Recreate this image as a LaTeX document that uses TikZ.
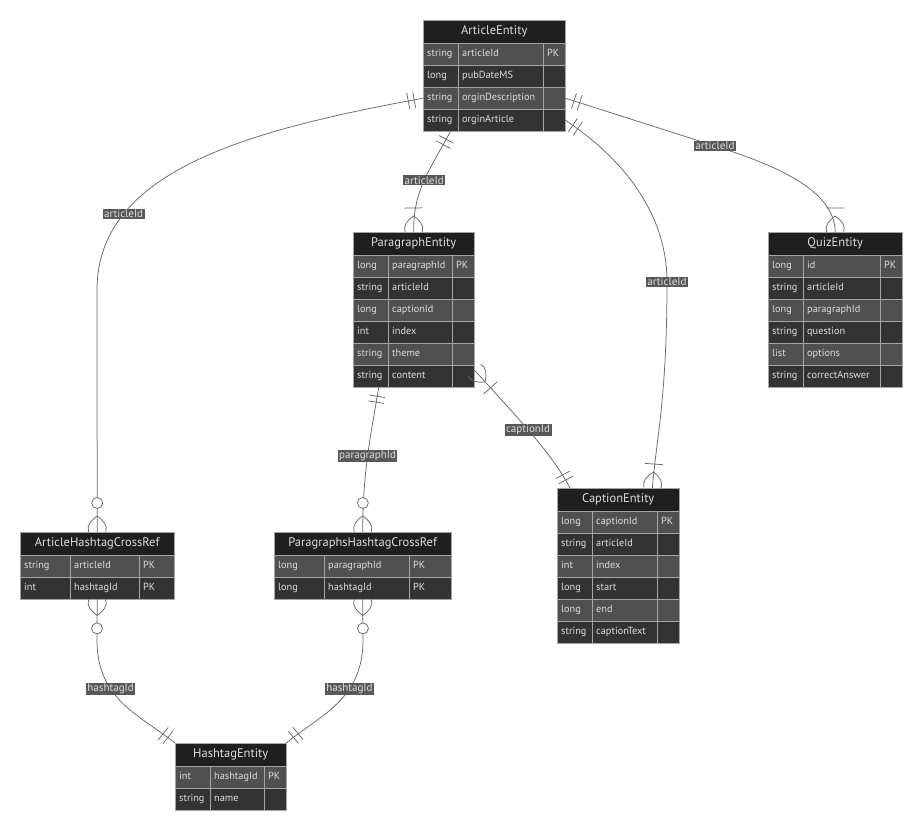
\documentclass[tikz,border=0pt]{standalone}
\usepackage{fontspec}
\setmainfont{PT Sans}
\usetikzlibrary{decorations.markings}

\definecolor{erhead}{RGB}{31,31,31}
\definecolor{erodd}{RGB}{80,80,80}
\definecolor{ereven}{RGB}{51,51,51}
\definecolor{erborder}{RGB}{165,165,165}
\definecolor{ertext}{RGB}{222,222,222}
\definecolor{erlink}{RGB}{105,105,105}
\definecolor{erlabel}{RGB}{88,88,88}

% entity table: name, title, x, y, three column widths, rows, type/name/key list
\newcommand{\erentity}[9]{%
  \pgfmathsetmacro{\erwidth}{#5+#6+#7}
  \pgfmathsetmacro{\erheight}{23+22*#8}
  \pgfmathsetmacro{\erxb}{#3+#5}
  \pgfmathsetmacro{\erxc}{#3+#5+#6}
  \pgfmathsetmacro{\erwa}{#5-8}
  \pgfmathsetmacro{\erwb}{#6-8}
  \pgfmathsetmacro{\erwc}{#7-8}
  \node[erframe, minimum width=\erwidth pt, minimum height=\erheight pt] (#1) at (#3,#4) {};
  \node[ertitle, minimum width=\erwidth pt] (#1-title) at (#3,#4) {#2};
  \foreach \ty/\nm/\ky [count=\erow] in {#9} {
    \pgfmathsetmacro{\ery}{#4+23+22*(\erow-1)}
    \ifodd\erow\relax \def\erfill{erodd}\else \def\erfill{ereven}\fi
    \node[ercell, fill=\erfill, text width=\erwa pt] (#1-\erow-type) at (#3,\ery) {\ty};
    \node[ercell, fill=\erfill, text width=\erwb pt] (#1-\erow-name) at (\erxb,\ery) {\nm};
    \node[ercell, fill=\erfill, text width=\erwc pt] (#1-\erow-key) at (\erxc,\ery) {\ky};
  }
}

% cardinality marks, drawn along the path (+1 at start, -1 at end)
\newcommand{\erbars}[1]{\draw[erlink, line width=0.75pt] (#1*9pt,-8pt) -- (#1*9pt,8pt) (#1*15pt,-8pt) -- (#1*15pt,8pt);}
\newcommand{\ercrow}[1]{\draw[erlink, line width=0.75pt] (0pt,8.5pt) .. controls (#1*6pt,11pt) and (#1*12pt,6pt) .. (#1*16pt,0pt)
    .. controls (#1*12pt,-6pt) and (#1*6pt,-11pt) .. (0pt,-8.5pt);}
\newcommand{\erbar}[1]{\draw[erlink, line width=0.75pt] (#1*24pt,-9pt) -- (#1*24pt,9pt);}
\newcommand{\erring}[1]{\draw[erlink, line width=0.75pt, fill=white] (#1*29pt,0pt) circle (5.5pt);}

\begin{document}
\begin{tikzpicture}[
    x=1pt, y=-1pt,
    erframe/.style={anchor=north west, inner sep=0pt},
    ertitle/.style={draw=erborder, fill=erhead, text=ertext, anchor=north west, inner sep=0pt,
      minimum height=23pt, font=\fontsize{12.5}{14}\selectfont},
    ercell/.style={draw=erborder, text=ertext, anchor=north west, inner xsep=4pt, inner ysep=0pt,
      minimum height=22pt, align=left, text height=7.5pt, text depth=2pt, font=\fontsize{10.3}{12}\selectfont},
    rel/.style={draw=erlink, line width=0.75pt},
    rellabel/.style={fill=erlabel, text=ertext, inner xsep=1.5pt, inner ysep=1pt, font=\fontsize{11}{13}\selectfont},
    one only at start/.style={postaction={decorate, decoration={markings, mark=at position 0 with {\erbars{1}}}}},
    one only at end/.style={postaction={decorate, decoration={markings, mark=at position -0.01pt with {\erbars{-1}}}}},
    one many at start/.style={postaction={decorate, decoration={markings, mark=at position 0 with {\ercrow{1}\erbar{1}}}}},
    one many at end/.style={postaction={decorate, decoration={markings, mark=at position -0.01pt with {\ercrow{-1}\erbar{-1}}}}},
    zero many at start/.style={postaction={decorate, decoration={markings, mark=at position 0 with {\ercrow{1}\erring{1}}}}},
    zero many at end/.style={postaction={decorate, decoration={markings, mark=at position -0.01pt with {\ercrow{-1}\erring{-1}}}}},
]

\path[use as bounding box, fill=white] (0,0) rectangle (922,832);

% Entities
\erentity{article}{ArticleEntity}{423}{20}{35}{85}{22}{4}{string/articleId/PK, long/pubDateMS/{}, string/orginDescription/{}, string/orginArticle/{}}
\erentity{para}{ParagraphEntity}{353}{232}{35}{64}{22}{6}{long/paragraphId/PK, string/articleId/{}, long/captionId/{}, int/index/{}, string/theme/{}, string/content/{}}
\erentity{quiz}{QuizEntity}{768}{232}{35}{77}{22}{6}{long/id/PK, string/articleId/{}, long/paragraphId/{}, string/question/{}, list/options/{}, string/correctAnswer/{}}
\erentity{caption}{CaptionEntity}{557}{488}{35}{65}{22}{6}{long/captionId/PK, string/articleId/{}, int/index/{}, long/start/{}, long/end/{}, string/captionText/{}}
\erentity{ahc}{ArticleHashtagCrossRef}{20}{532}{50}{69}{35}{2}{string/articleId/PK, int/hashtagId/PK}
\erentity{phc}{ParagraphsHashtagCrossRef}{274}{532}{50}{85}{42}{2}{long/paragraphId/PK, long/hashtagId/PK}
\erentity{hashtag}{HashtagEntity}{175}{743}{35}{54}{22}{2}{int/hashtagId/PK, string/name/{}}

% Article relations
\draw[rel, one only at start, zero many at end] (article-3-type.west) .. controls (250,130) and (97,170) .. (97,290)
  node[rellabel, pos=0.75] {articleId} -- (ahc.north);
\draw[rel, one only at start, one many at end] ([xshift=-8pt]article-4-type.south east) .. controls (430,170) and (413,190) .. (para.north)
  node[rellabel, pos=0.5] {articleId};
\draw[rel, one only at start, one many at end] (article-4-key.east) .. controls (625,160) and (667,215) .. (667,282)
  node[rellabel, pos=1] {articleId} .. controls (667,400) and (656,440) .. ([xshift=-27pt]caption.north east);
\draw[rel, one only at start, one many at end] (article-3-key.east) -- (715,146)
  node[rellabel, pos=1] {articleId} .. controls (775,165) and (835,190) .. (quiz.north);

% Paragraph relations
\draw[rel, one only at start, zero many at end] ([xshift=-35pt]para.south) .. controls (370,440) and (363,470) .. (phc.north)
  node[rellabel, pos=0.5] {paragraphId};
\draw[rel, one many at start, one only at end] ([yshift=-5pt]para-6-key.north east) .. controls (510,410) and (550,450) .. ([xshift=13pt]caption.north west)
  node[rellabel, pos=0.5] {captionId};

% Hashtag relations
\draw[rel, zero many at start, one only at end] (ahc.south) -- (97,640) .. controls (97,700) and (140,715) .. (hashtag.north west)
  node[rellabel, pos=0.35] {hashtagId};
\draw[rel, zero many at start, one only at end] (phc.south) -- (363,640) .. controls (363,700) and (320,715) .. (hashtag.north east)
  node[rellabel, pos=0.35] {hashtagId};

\end{tikzpicture}
\end{document}
